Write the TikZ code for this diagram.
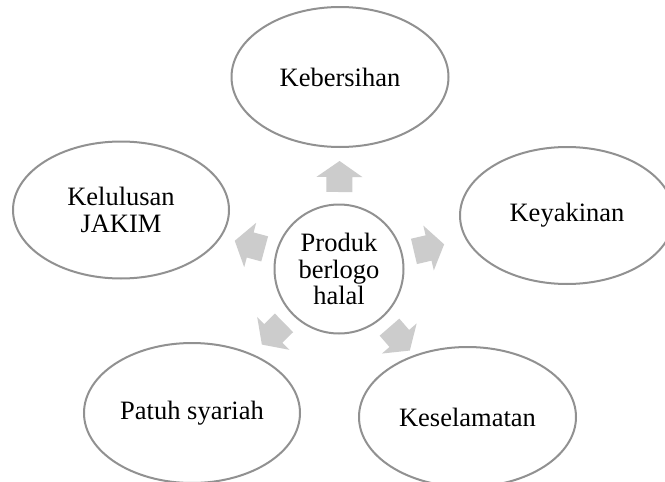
\documentclass[tikz,border=0pt]{standalone}
\usepackage{fontspec}
\setmainfont{Liberation Serif}
\usetikzlibrary{shapes.geometric,calc}
\definecolor{ringgray}{RGB}{145,145,145}
\definecolor{arrowgray}{RGB}{204,204,204}
\tikzset{
  bubble/.style={draw=ringgray, line width=2pt, ellipse, inner sep=0pt,
    minimum width=216pt, minimum height=139pt, align=center,
    font=\fontsize{26.5}{27}\selectfont},
  hub/.style={draw=ringgray, line width=2pt, circle, inner sep=0pt,
    minimum size=129pt, align=center,
    font=\fontsize{26.5}{26.5}\selectfont},
  blockarrow/.style={fill=arrowgray, draw=none}
}
\newcommand\radialarrow[2]{%
  \fill[blockarrow]
    ($(#1.center)!77pt!(#2.center)!13pt!90:(#2.center)$) --
    ($(#1.center)!92pt!(#2.center)!13pt!90:(#2.center)$) --
    ($(#1.center)!92pt!(#2.center)!23pt!90:(#2.center)$) --
    ($(#1.center)!108pt!(#2.center)$) --
    ($(#1.center)!92pt!(#2.center)!23pt!-90:(#2.center)$) --
    ($(#1.center)!92pt!(#2.center)!13pt!-90:(#2.center)$) --
    ($(#1.center)!77pt!(#2.center)!13pt!-90:(#2.center)$) -- cycle;}
\begin{document}
\begin{tikzpicture}[x=1pt,y=-1pt]
  \useasboundingbox (0,0) rectangle (665,482);
  \clip (0,0) rectangle (665,482);
  \fill[white] (0,0) rectangle (665,482);
  \node[hub] (c) at (339,269) {Produk\\berlogo\\halal};
  \node[bubble, minimum width=217pt, minimum height=140pt] (top) at (340,77) {Kebersihan};
  \node[bubble, minimum width=214pt, minimum height=137pt] (right) at (567,215.5) {Keyakinan};
  \node[bubble, minimum height=137pt] (left) at (121,210) {Kelulusan\\JAKIM};
  \node[bubble, minimum height=140pt] (bl) at (192,413) {Patuh syariah};
  \node[bubble, minimum width=217pt, minimum height=140pt] (br) at (467.5,417) {Keselamatan};
  \radialarrow{c}{top}
  \radialarrow{c}{right}
  \radialarrow{c}{br}
  \radialarrow{c}{bl}
  \radialarrow{c}{left}
\end{tikzpicture}
\end{document}
